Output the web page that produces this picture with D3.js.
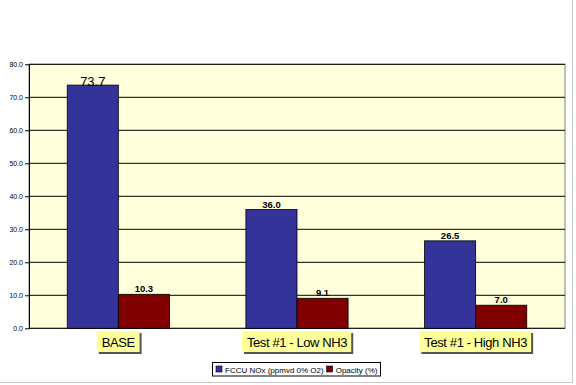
<!DOCTYPE html>
<html><head><meta charset="utf-8">
<script src="https://cdn.jsdelivr.net/npm/d3@7"></script>
<style>body{margin:0;background:#fff}svg{display:block;font-family:"Liberation Sans",Arial,sans-serif}</style>
</head><body><svg id="c" width="576" height="385"></svg>
<script>
const categories = ["BASE", "Test #1 - Low NH3", "Test #1 - High NH3"];
const seriesNames = ["FCCU NOx (ppmvd 0% O2)", "Opacity (%)"];
const noxValues = [73.7, 36.0, 26.5];
const opacityValues = [10.3, 9.1, 7.0];
const yTicks = [0, 10, 20, 30, 40, 50, 60, 70, 80];
const colors = ["#333399", "#800000"];

const svg = d3.select("#c");
const m = {l: 29, r: 565, t: 64.3, b: 328.3};
const x = d3.scaleBand().domain(categories).range([m.l, m.r]).paddingInner(0).paddingOuter(0);
const y = d3.scaleLinear().domain([0, 80]).range([m.b, m.t]);
const bw = x.bandwidth() * 0.286;

// frame borders
svg.append("line").attr("x1", 572.5).attr("x2", 572.5).attr("y1", 0).attr("y2", 383).attr("stroke", "#c8c8c8");
svg.append("line").attr("x1", 0).attr("x2", 573).attr("y1", 382.5).attr("y2", 382.5).attr("stroke", "#c8c8c8");

// plot area
svg.append("rect").attr("x", m.l).attr("y", m.t).attr("width", m.r - m.l).attr("height", m.b - m.t)
  .attr("fill", "#ffffdc").attr("stroke", "#808080").attr("stroke-width", 1);

// gridlines
svg.append("g").selectAll("line").data(yTicks.filter(d => d > 0)).join("line")
  .attr("x1", m.l).attr("x2", m.r).attr("y1", d => y(d)).attr("y2", d => y(d))
  .attr("stroke", "#000").attr("stroke-width", 1);

// y axis
const ya = svg.append("g").attr("transform", `translate(${m.l},0)`)
  .call(d3.axisLeft(y).tickValues(yTicks).tickFormat(d3.format(".1f")).tickSizeOuter(0).tickSizeInner(4));
ya.select(".domain").attr("stroke", "#000");
ya.selectAll("line").attr("stroke", "#000");
ya.selectAll("text").attr("font-size", 7).attr("fill", "#000").attr("x", -6).attr("dy", "0.35em")
  .attr("font-family", "'Liberation Sans',Arial,sans-serif");

// x axis line
svg.append("line").attr("x1", m.l).attr("x2", m.r).attr("y1", m.b).attr("y2", m.b).attr("stroke", "#000");

const series = [noxValues, opacityValues];
series.forEach((vals, si) => {
  const g = svg.append("g");
  g.selectAll("rect").data(categories).join("rect")
    .attr("x", (c) => x(c) + x.bandwidth() / 2 - bw + si * bw)
    .attr("y", (c, i) => y(vals[i]))
    .attr("width", bw)
    .attr("height", (c, i) => y(0) - y(vals[i]))
    .attr("fill", colors[si]).attr("stroke", "#000").attr("stroke-width", 0.8);
  g.selectAll("text").data(categories).join("text")
    .attr("x", (c) => x(c) + x.bandwidth() / 2 - bw / 2 + si * bw)
    .attr("y", (c, i) => y(vals[i]) + ((si === 0 && i === 0) ? 1 : -2))
    .attr("text-anchor", "middle")
    .attr("font-size", (c, i) => (si === 0 && i === 0) ? 13 : 9.5)
    .attr("font-weight", (c, i) => (si === 0 && i === 0) ? "normal" : "bold")
    .attr("fill", "#000")
    .text((c, i) => vals[i].toFixed(1));
});

// category labels with yellow boxes
const cl = svg.append("g").selectAll("g").data(categories).join("g");
cl.each(function(c) {
  const g = d3.select(this);
  const cx = x(c) + x.bandwidth() / 2;
  const t = g.append("text").attr("x", cx).attr("y", 346.5).attr("text-anchor", "middle")
    .attr("font-size", 13).attr("letter-spacing", -0.4).attr("fill", "#000").text(c);
  const bb = t.node().getBBox();
  const bx = bb.x - 5, by = 331, bwid = bb.width + 9, bh = 21;
  g.insert("rect", "text").attr("x", bx + 2).attr("y", by + 2).attr("width", bwid).attr("height", bh).attr("fill", "#555");
  g.insert("rect", "text").attr("x", bx).attr("y", by).attr("width", bwid).attr("height", bh).attr("fill", "#ffff99");
});

// legend
const lg = svg.append("g");
const lgBox = lg.append("rect").attr("x", 212.5).attr("y", 362.5).attr("width", 169).attr("height", 13.5)
  .attr("fill", "#fff").attr("stroke", "#000").attr("stroke-width", 1);
let lx = 216;
seriesNames.forEach((n, i) => {
  lg.append("rect").attr("x", lx).attr("y", 366).attr("width", 6).attr("height", 6)
    .attr("fill", colors[i]).attr("stroke", "#000").attr("stroke-width", 0.6);
  const t = lg.append("text").attr("x", lx + 9).attr("y", 372.5).attr("font-size", 8).attr("fill", "#000").text(n);
  lx += 9 + t.node().getComputedTextLength() + 3;
});
lgBox.attr("width", lx - 212.5);
</script></body></html>
